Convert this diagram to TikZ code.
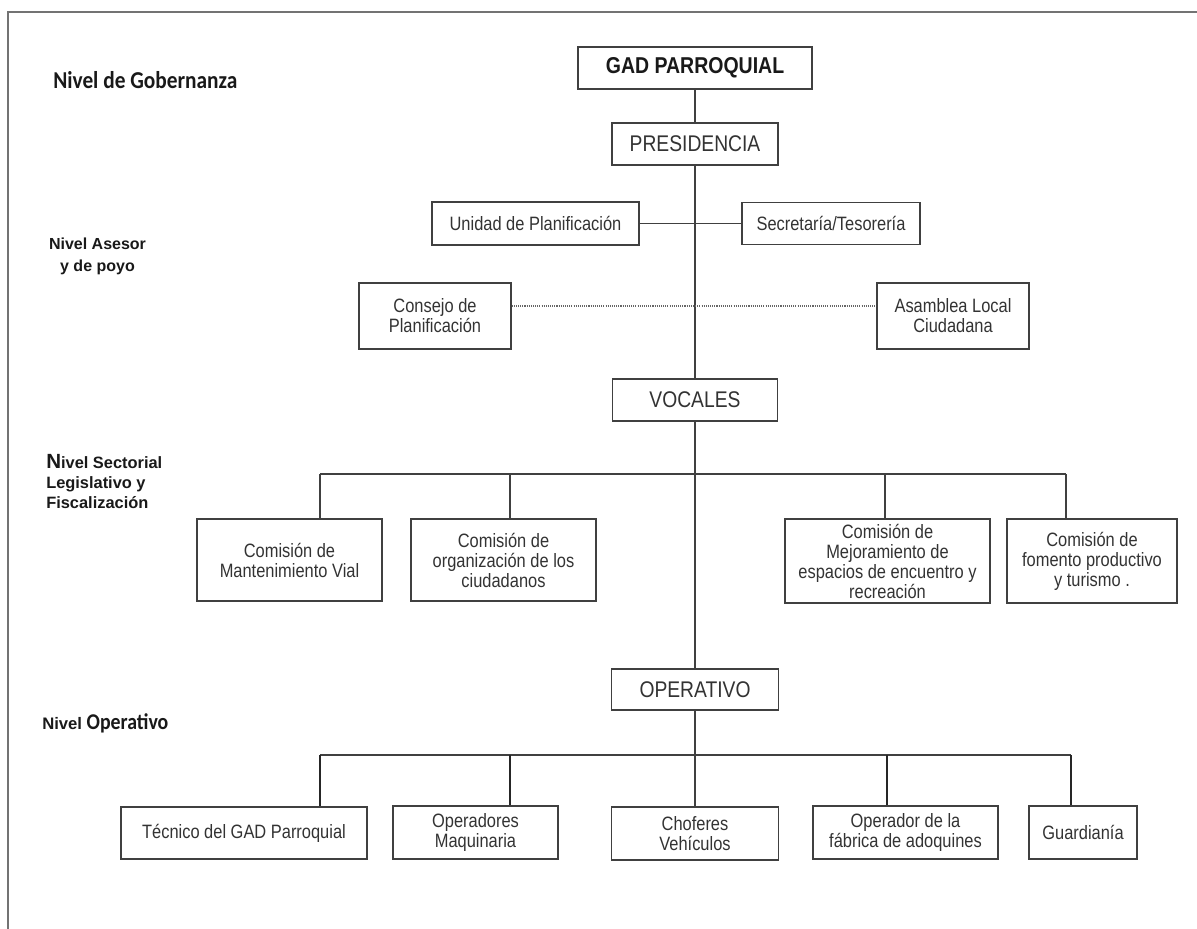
\documentclass[tikz,border=0pt]{standalone}
\usepackage{fontspec}
\setmainfont{Liberation Sans}[FakeStretch=0.85]
\newfontfamily\plainfont{Liberation Sans}
\newfontfamily\levelfont{Carlito}[FakeStretch=0.88]
\usetikzlibrary{positioning}
\tikzstyle{unit} = [rectangle, 
draw=black!75, 
line width=1pt, 
fill=white, 
text=black!80, 
align=center, 
inner sep=2pt, 
font=\fontsize{14.5}{15}\selectfont]
\tikzstyle{head} = [unit, 
font=\fontsize{17}{18}\selectfont]
\tikzstyle{level} = [anchor=west, 
inner sep=0pt, 
align=left, 
text=black!90, 
font=\plainfont\bfseries\fontsize{12.3}{15}\selectfont]
\tikzstyle{line} = [draw=black!75, line width=1pt]
\tikzstyle{thickline} = [draw=black!85, line width=1.6pt]
\tikzstyle{dotline} = [draw=black!60, line width=0.8pt, dash pattern=on 0.8pt off 0.8pt]

\begin{document}
\begin{tikzpicture}[x=0.75pt, y=-0.75pt]
        \useasboundingbox (0,0) rectangle (1197,929);
        \draw [black!55, line width=1.2pt] (1197,12) -- (8,12) -- (8,929);

        % niveles
        \node (lvgob) [level, font=\levelfont\bfseries\fontsize{18.2}{19}\selectfont] at (53,80) {Nivel de Gobernanza};
        \node (lvase) [level, anchor=center, align=center, font=\plainfont\bfseries\fontsize{12}{16.5}\selectfont] at (97.5,256) {Nivel Asesor\\y de poyo};
        \node (lvsec) [level] at (46,482) {{\fontsize{15.4}{15}\selectfont N}ivel Sectorial\\Legislativo y\\Fiscalización};
        \node (lvope) [level] at (42,723) {{\fontsize{12.5}{13}\selectfont Nivel} {\levelfont\fontsize{16.9}{17}\selectfont Operativo}};

        % gobernanza y asesor
        \node (gad) [head, minimum width=175.5pt, minimum height=31.5pt, text=black!90, font=\bfseries\fontsize{17.2}{18}\selectfont] at (695,68) {GAD PARROQUIAL};
        \node (pres) [head, minimum width=124.5pt, minimum height=31.5pt] at (695,144) {PRESIDENCIA};
        \node (unidad) [unit, minimum width=155.25pt, minimum height=32.25pt] at (535.5,223.5) {Unidad de Planificación};
        \node (secre) [unit, minimum width=133.5pt, minimum height=31.5pt] at (831,223.5) {Secretaría/Tesorería};
        \node (consejo) [unit, minimum width=114pt, minimum height=49.5pt] at (435,316) {Consejo de\\Planificación};
        \node (asamblea) [unit, minimum width=114pt, minimum height=49.5pt] at (953,316) {Asamblea Local\\Ciudadana};

        % sectorial
        \node (vocales) [head, minimum width=123.75pt, minimum height=31.5pt] at (695,400) {VOCALES};
        \node (com1) [unit, minimum width=138.75pt, minimum height=61.5pt] at (289.5,560) {Comisión de\\Mantenimiento Vial};
        \node (com2) [unit, minimum width=138.75pt, minimum height=61.5pt] at (503.5,560) {Comisión de\\organización de los\\ciudadanos};
        \node (com3) [unit, minimum width=153.75pt, minimum height=63pt] at (887.5,561) {Comisión de\\Mejoramiento de\\espacios de encuentro y\\recreación};
        \node (com4) [unit, minimum width=127.5pt, minimum height=63pt] at (1092,561) {Comisión de\\fomento productivo\\y turismo .};

        % operativo
        \node (operativo) [head, minimum width=125.25pt, minimum height=30.75pt] at (695,689.5) {OPERATIVO};
        \node (tecnico) [unit, minimum width=184.5pt, minimum height=39pt] at (244,833) {Técnico del GAD Parroquial};
        \node (operadores) [unit, minimum width=123.75pt, minimum height=39.75pt] at (475.5,832.5) {Operadores\\Maquinaria};
        \node (choferes) [unit, minimum width=125.25pt, minimum height=39.75pt] at (695,833.5) {Choferes\\Vehículos};
        \node (fabrica) [unit, minimum width=138.75pt, minimum height=39.75pt] at (905.5,832.5) {Operador de la\\fábrica de adoquines};
        \node (guardia) [unit, minimum width=81pt, minimum height=39.75pt] at (1083,832.5) {Guardianía};

        \coordinate (kc1) at (320,474);
        \coordinate (kc2) at (510,474);
        \coordinate (kc3) at (885,474);
        \coordinate (kc4) at (1066,474);
        \coordinate (ko1) at (320,755);
        \coordinate (ko2) at (510,755);
        \coordinate (ko3) at (887,755);
        \coordinate (ko4) at (1071,755);

        \draw [line] (gad) -- (pres);
        \draw [line] (pres) -- (vocales);
        \draw [line] (vocales) -- (operativo);
        \draw [line] (operativo) -- (choferes);
        \draw [line] (unidad) -- (secre);
        \draw [dotline] ([yshift=7.5pt]consejo.east) -- ([yshift=7.5pt]asamblea.west);

        \draw [line] (kc1) -- (kc4);
        \draw [line] (kc1) -- (kc1 |- com1.north);
        \draw [line] (kc2) -- (kc2 |- com2.north);
        \draw [line] (kc3) -- (kc3 |- com3.north);
        \draw [line] (kc4) -- (kc4 |- com4.north);

        \draw [line] (ko1) -- (ko4);
        \draw [thickline] (ko1) -- (ko1 |- tecnico.north);
        \draw [thickline] (ko2) -- (ko2 |- operadores.north);
        \draw [thickline] (ko3) -- (ko3 |- fabrica.north);
        \draw [thickline] (ko4) -- (ko4 |- guardia.north);

    \end{tikzpicture}
\end{document}
